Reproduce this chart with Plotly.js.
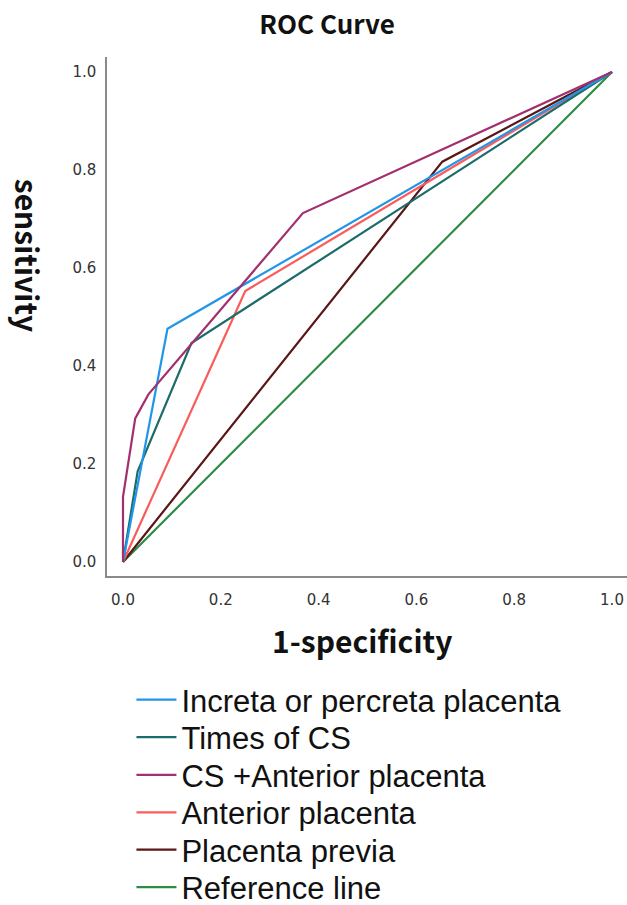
<!DOCTYPE html>
<html>
<head>
<meta charset="utf-8">
<script src="https://cdn.plot.ly/plotly-3.0.1.min.js"></script>
<style>
  html, body { margin: 0; padding: 0; background: #ffffff; }
  #chart { width: 627px; height: 905px; }
</style>
</head>
<body>
<div id="chart"></div>
<script>
// ---- data ----
const seriesNames = [
  "Increta or percreta placenta",
  "Times of CS",
  "CS +Anterior placenta",
  "Anterior placenta",
  "Placenta previa",
  "Reference line"
];
const incretaFPR = [0, 0.091, 1];
const incretaTPR = [0, 0.476, 1];
const timesCsFPR = [0, 0.030, 0.140, 1];
const timesCsTPR = [0, 0.185, 0.447, 1];
const csAntFPR = [0, 0, 0.025, 0.052, 0.368, 1];
const csAntTPR = [0, 0.133, 0.293, 0.342, 0.712, 1];
const anteriorFPR = [0, 0.250, 1];
const anteriorTPR = [0, 0.553, 1];
const previaFPR = [0, 0.653, 1];
const previaTPR = [0, 0.817, 1];
const refFPR = [0, 1];
const refTPR = [0, 1];
const tickValues = [0, 0.2, 0.4, 0.6, 0.8, 1.0];
const tickLabels = ["0.0", "0.2", "0.4", "0.6", "0.8", "1.0"];

const colors = ["#2196e8", "#1d6b6b", "#a3306e", "#fa5c5c", "#5a1616", "#2e8b46"];
const xs = [incretaFPR, timesCsFPR, csAntFPR, anteriorFPR, previaFPR, refFPR];
const ys = [incretaTPR, timesCsTPR, csAntTPR, anteriorTPR, previaTPR, refTPR];
const drawOrder = [5, 4, 3, 1, 0, 2];
const legendIds = ["legend", "legend2", "legend3", "legend4", "legend5", "legend6"];
const legendRowY = [-0.239, -0.311, -0.384, -0.456, -0.528, -0.600];

const traces = drawOrder.map(i => ({
  type: "scatter",
  mode: "lines",
  x: xs[i],
  y: ys[i],
  name: seriesNames[i],
  legend: legendIds[i],
  line: { color: colors[i], width: 2.2 },
  hoverinfo: "skip"
}));

const tickFont = { family: "DejaVu Sans, sans-serif", size: 15, color: "#333333" };
const titleFont = { family: "Noto Sans CJK SC, Noto Sans, sans-serif", size: 30, color: "#111111", weight: "bold" };

const layout = {
  width: 627,
  height: 905,
  paper_bgcolor: "#ffffff",
  plot_bgcolor: "#ffffff",
  margin: { l: 107, r: 0, t: 57, b: 329, pad: 0, autoexpand: false },
  title: {
    text: "ROC Curve",
    x: 0.5215, xref: "container", xanchor: "center",
    y: 0.973, yref: "container", yanchor: "middle",
    font: { family: "Noto Sans CJK SC, Noto Sans, sans-serif", size: 26, color: "#111111", weight: "bold" }
  },
  xaxis: {
    range: [-0.0327, 1.0307],
    tickvals: tickValues, ticktext: tickLabels,
    showgrid: false, zeroline: false,
    showline: true, linecolor: "#8a8a8a", linewidth: 1.6, mirror: false,
    ticks: "", ticklabelstandoff: 9,
    tickfont: tickFont,
    fixedrange: true
  },
  yaxis: {
    range: [-0.0286, 1.0306],
    tickvals: tickValues, ticktext: tickLabels,
    showgrid: false, zeroline: false,
    showline: true, linecolor: "#8a8a8a", linewidth: 1.6, mirror: false,
    ticks: "", ticklabelstandoff: 6,
    tickfont: tickFont,
    fixedrange: true
  },
  showlegend: true,
  annotations: [
    {
      text: "1-specificity",
      xref: "paper", yref: "paper",
      x: 0.49, y: -0.123, xanchor: "center", yanchor: "middle",
      showarrow: false, font: titleFont
    },
    {
      text: "sensitivity",
      xref: "paper", yref: "paper",
      x: -0.152, y: 0.617, xanchor: "center", yanchor: "middle",
      textangle: 90,
      showarrow: false, font: titleFont
    }
  ]
};

legendIds.forEach((id, k) => {
  layout[id] = {
    x: 0.047, xanchor: "left", xref: "paper",
    y: legendRowY[k], yanchor: "middle", yref: "paper",
    orientation: "v",
    itemwidth: 40,
    bgcolor: "rgba(0,0,0,0)",
    borderwidth: 0,
    font: { family: "Liberation Sans, Arial, sans-serif", size: 31, color: "#111111" }
  };
});

Plotly.newPlot("chart", traces, layout, { displayModeBar: false, staticPlot: true });
</script>
</body>
</html>
